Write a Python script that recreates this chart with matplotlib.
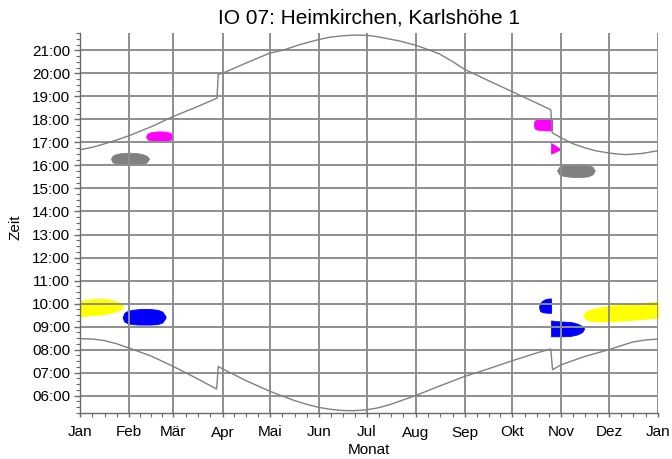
import matplotlib
matplotlib.use("Agg")
import matplotlib.pyplot as plt
from matplotlib.ticker import FixedLocator, FixedFormatter

plt.rcParams['font.family'] = ['Liberation Sans', 'DejaVu Sans']

# ---------------- data ----------------
title = "IO 07: Heimkirchen, Karlshöhe 1"
x_label = "Monat"
y_label = "Zeit"

month_labels = ["Jan", "Feb", "Mär", "Apr", "Mai", "Jun", "Jul",
                "Aug", "Sep", "Okt", "Nov", "Dez", "Jan"]
month_starts = [0, 31, 59, 90, 120, 151, 181, 212, 243, 273, 304, 334, 365]

hour_ticks = [6, 7, 8, 9, 10, 11, 12, 13, 14, 15, 16, 17, 18, 19, 20, 21]
hour_labels = ["06:00", "07:00", "08:00", "09:00", "10:00", "11:00", "12:00",
               "13:00", "14:00", "15:00", "16:00", "17:00", "18:00", "19:00",
               "20:00", "21:00"]

# sunset (day of year, hour)
sunset_days = [0, 8, 15, 23, 31, 45, 59, 73, 86.5, 87.3, 90, 105, 120, 128,
               139, 151, 158, 166, 173, 181, 187, 193, 202, 212, 221, 227, 235,
               243, 258, 273, 288, 297.3, 298.2, 304, 311, 319, 326, 334, 340,
               345, 355, 365]
sunset_hours = [16.68, 16.79, 16.93, 17.10, 17.29, 17.68, 18.13, 18.52, 18.92,
                19.95, 20.0, 20.45, 20.88, 21.0, 21.25, 21.47, 21.57, 21.63,
                21.66, 21.65, 21.60, 21.52, 21.40, 21.22, 21.0, 20.84, 20.52,
                20.17, 19.68, 19.2, 18.72, 18.42, 17.42, 17.19, 16.95, 16.76,
                16.63, 16.54, 16.49, 16.47, 16.52, 16.64]

# sunrise (day of year, hour)
sunrise_days = [0, 8, 15, 23, 31, 45, 59, 73, 86.3, 87.3, 90, 105, 120, 135,
                143, 151, 158, 166, 173, 181, 188, 196, 212, 227, 243, 258, 273,
                288, 297.3, 298.4, 304, 319, 334, 342, 349, 357, 365]
sunrise_hours = [8.48, 8.46, 8.40, 8.26, 8.07, 7.72, 7.27, 6.78, 6.29, 7.27,
                 7.17, 6.65, 6.19, 5.80, 5.63, 5.49, 5.41, 5.36, 5.35, 5.39,
                 5.47, 5.62, 6.01, 6.42, 6.84, 7.17, 7.52, 7.85, 8.03, 7.13,
                 7.35, 7.71, 8.0, 8.18, 8.33, 8.42, 8.46]

# shadow periods: day, begin hour, end hour
yellow_jan_days = [0, 3, 8, 13, 18, 22, 25, 27]
yellow_jan_low = [9.45, 9.46, 9.50, 9.53, 9.58, 9.65, 9.72, 9.85]
yellow_jan_high = [10.10, 10.15, 10.20, 10.21, 10.19, 10.12, 10.05, 9.93]

blue_feb_days = [27, 28, 30, 33, 37, 41, 45, 49, 52, 54]
blue_feb_low = [9.38, 9.22, 9.15, 9.11, 9.09, 9.09, 9.09, 9.11, 9.18, 9.38]
blue_feb_high = [9.42, 9.60, 9.68, 9.73, 9.76, 9.77, 9.76, 9.73, 9.65, 9.45]

gray_feb_days = [19.5, 20.5, 23, 27, 31, 35, 39, 42, 43.7]
gray_feb_low = [16.29, 16.14, 16.07, 16.03, 16.02, 16.03, 16.06, 16.13, 16.29]
gray_feb_high = [16.29, 16.42, 16.50, 16.54, 16.55, 16.54, 16.50, 16.42, 16.29]

magenta_feb_days = [41.7, 42.5, 45, 50, 55, 58, 58.9]
magenta_feb_low = [17.26, 17.14, 17.07, 17.04, 17.06, 17.14, 17.26]
magenta_feb_high = [17.26, 17.37, 17.45, 17.48, 17.46, 17.37, 17.26]

magenta_oct_days = [286.6, 287.2, 289, 292, 295, 298]
magenta_oct_low = [17.75, 17.60, 17.55, 17.53, 17.52, 17.52]
magenta_oct_high = [17.82, 17.95, 18.00, 18.02, 18.03, 18.03]

magenta_nov_days = [297.5, 303]
magenta_nov_low = [16.51, 16.69]
magenta_nov_high = [16.97, 16.73]

gray_nov_days = [301.3, 302.5, 305, 309, 313, 317, 321, 323.8, 325]
gray_nov_low = [15.78, 15.62, 15.55, 15.51, 15.49, 15.50, 15.53, 15.62, 15.78]
gray_nov_high = [15.78, 15.93, 16.00, 16.05, 16.07, 16.06, 16.02, 15.93, 15.78]

blue_oct_days = [290, 290.5, 292, 294, 296, 297.5]
blue_oct_low = [9.80, 9.68, 9.63, 9.61, 9.60, 9.60]
blue_oct_high = [9.90, 10.02, 10.12, 10.20, 10.22, 10.22]

blue_nov_days = [297.5, 300, 305, 310, 314, 317, 318.4]
blue_nov_low = [8.58, 8.58, 8.58, 8.60, 8.66, 8.76, 8.91]
blue_nov_high = [9.27, 9.24, 9.22, 9.20, 9.13, 9.03, 8.91]

yellow_dec_days = [318, 319, 321, 324, 328, 335, 342, 350, 358, 365]
yellow_dec_low = [9.48, 9.35, 9.28, 9.24, 9.22, 9.23, 9.26, 9.30, 9.35, 9.40]
yellow_dec_high = [9.55, 9.63, 9.70, 9.77, 9.83, 9.91, 9.96, 10.01, 10.05, 10.08]

# ---------------- figure ----------------
W, H = 672, 459
fig = plt.figure(figsize=(W / 100, H / 100), dpi=100)
ax = fig.add_axes([80 / W, 1 - 413 / H, 578 / W, 380 / H])

grid_col = "#8e8e8e"
curve_col = "#808080"

blobs = [
    (yellow_jan_days, yellow_jan_low, yellow_jan_high, "#ffff00"),
    (blue_feb_days, blue_feb_low, blue_feb_high, "#0000ff"),
    (gray_feb_days, gray_feb_low, gray_feb_high, "#808080"),
    (magenta_feb_days, magenta_feb_low, magenta_feb_high, "#ff00ff"),
    (magenta_oct_days, magenta_oct_low, magenta_oct_high, "#ff00ff"),
    (magenta_nov_days, magenta_nov_low, magenta_nov_high, "#ff00ff"),
    (gray_nov_days, gray_nov_low, gray_nov_high, "#808080"),
    (blue_oct_days, blue_oct_low, blue_oct_high, "#0000ff"),
    (blue_nov_days, blue_nov_low, blue_nov_high, "#0000ff"),
    (yellow_dec_days, yellow_dec_low, yellow_dec_high, "#ffff00"),
]
for d, lo, hi, c in blobs:
    ax.fill_between(d, lo, hi, color=c, lw=0.6, edgecolor=c, zorder=1)

ax.plot(sunset_days, sunset_hours, color=curve_col, lw=1.0, zorder=2)
ax.plot(sunrise_days, sunrise_hours, color=curve_col, lw=1.0, zorder=2)

ax.set_xlim(0, 365)
ax.set_ylim(5.25, 21.75)

# ticks
ax.xaxis.set_major_locator(FixedLocator(month_starts))
ax.xaxis.set_major_formatter(FixedFormatter(month_labels))
minor_x = []
for a, b in zip(month_starts[:-1], month_starts[1:]):
    for k in (1, 2, 3):
        minor_x.append(a + (b - a) * k / 4)
ax.xaxis.set_minor_locator(FixedLocator(minor_x))

ax.yaxis.set_major_locator(FixedLocator(hour_ticks))
ax.yaxis.set_major_formatter(FixedFormatter(hour_labels))
minor_y = []
h = 5.25
while h < 21.76:
    if abs(h - round(h)) > 1e-6:
        minor_y.append(h)
    h += 0.25
ax.yaxis.set_minor_locator(FixedLocator(minor_y))

ax.grid(True, which="major", color=grid_col, lw=1.4)
for s in ("top", "right"):
    ax.spines[s].set_visible(False)
for s in ("left", "bottom"):
    ax.spines[s].set_color("#6a6a6a")
    ax.spines[s].set_linewidth(1.0)

ax.tick_params(axis="y", which="major", length=4, width=1, color="#6a6a6a",
               labelsize=11, pad=3)
ax.tick_params(axis="y", which="minor", length=3, width=0.8, color="#6a6a6a")
ax.tick_params(axis="x", which="major", length=3, width=1, color="#6a6a6a",
               labelsize=11, pad=6)
ax.tick_params(axis="x", which="minor", length=3, width=0.8, color="#6a6a6a")

ax.set_title(title, fontsize=15, pad=7)
ax.set_xlabel(x_label, fontsize=11)
ax.xaxis.set_label_coords(0.5, -0.078)
ax.set_ylabel(y_label, fontsize=11)
ax.yaxis.set_label_coords(-0.1, 0.49)

fig.savefig("out.png", dpi=100)
